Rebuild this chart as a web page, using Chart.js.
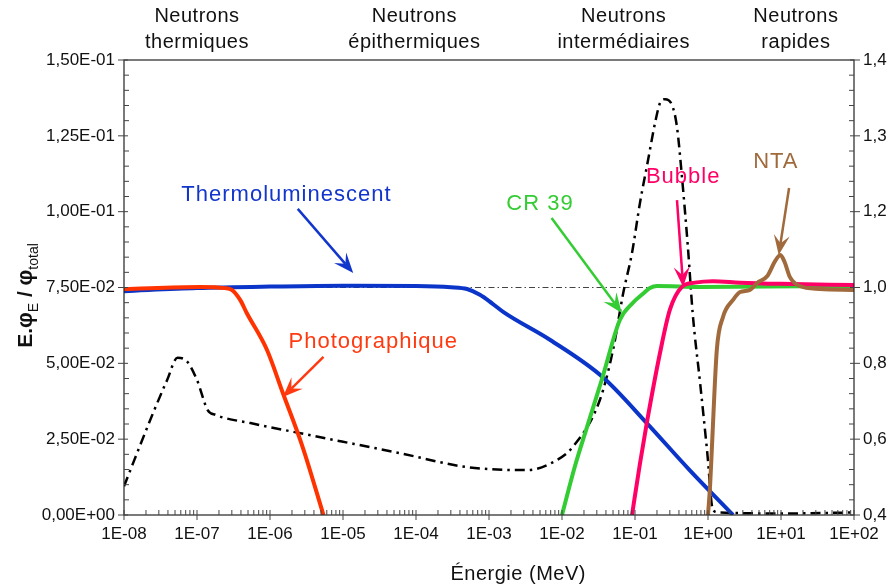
<!DOCTYPE html>
<html>
<head>
<meta charset="utf-8">
<script src="https://cdn.jsdelivr.net/npm/chart.js@4"></script>
<style>
  body { margin: 0; background: #fff; }
</style>
</head>
<body>
<canvas id="myChart" width="895" height="587"></canvas>
<script>
// Tick labels
var xTickValues = [1e-8, 1e-7, 1e-6, 1e-5, 1e-4, 1e-3, 1e-2, 1e-1, 1e0, 1e1, 1e2];
var xTickLabels = ['1E-08', '1E-07', '1E-06', '1E-05', '1E-04', '1E-03', '1E-02', '1E-01', '1E+00', '1E+01', '1E+02'];
var yTickValues = [0, 0.025, 0.05, 0.075, 0.1, 0.125, 0.15];
var yTickLabels = ['0,00E+00', '2,50E-02', '5,00E-02', '7,50E-02', '1,00E-01', '1,25E-01', '1,50E-01'];
var y2TickLabels = ['0,4', '0,6', '0,8', '1,0', '1,2', '1,3', '1,4'];

// Energies (MeV) and E.phi/phi_total for each curve
var energyThermo = [1e-8, 1e-7, 1e-6, 1e-5, 1e-4, 3e-4, 5e-4, 7.5e-4, 1.1e-3, 1.6e-3, 6.9e-3, 3.6e-2, 0.145, 0.56, 2.2];
var valueThermo = [0.0738, 0.0748, 0.0753, 0.0756, 0.0755, 0.0751, 0.0745, 0.0726, 0.0698, 0.0668, 0.0577, 0.0455, 0.0303, 0.0148, 0];

var energyPhoto = [1e-8, 1.1e-7, 2.4e-7, 3e-7, 3.9e-7, 4.8e-7, 9.1e-7, 1.5e-6, 2.8e-6, 5.4e-6];
var valuePhoto = [0.0745, 0.0752, 0.0748, 0.0742, 0.0709, 0.0666, 0.0544, 0.0402, 0.0224, 0];

var energyCR39 = [1e-2, 1.5e-2, 2.2e-2, 3.6e-2, 6.2e-2, 9.3e-2, 0.13, 0.16, 0.2, 0.78, 100];
var valueCR39 = [0, 0.016, 0.029, 0.0455, 0.0643, 0.0699, 0.0730, 0.0748, 0.0755, 0.0752, 0.0755];

var energyBubble = [9.1e-2, 0.117, 0.145, 0.22, 0.30, 0.44, 0.66, 1.17, 2.75, 9.8, 100];
var valueBubble = [0, 0.017, 0.0303, 0.0534, 0.0676, 0.0752, 0.0766, 0.0771, 0.0766, 0.0762, 0.0758];

var energyNTA = [1.0, 1.07, 1.13, 1.32, 1.6, 2.2, 2.75, 3.76, 4.7, 6.5, 8.3, 9.8, 11.2, 13.2, 18, 34, 100];
var valueNTA = [0, 0.01, 0.022, 0.0544, 0.0652, 0.0709, 0.0735, 0.0742, 0.0765, 0.0788, 0.0837, 0.0857, 0.0834, 0.0785, 0.0755, 0.0745, 0.0742];

var energySpectrum = [1e-8, 2.5e-8, 3.9e-8, 5.4e-8, 7.2e-8, 1e-7, 1.4e-7, 1.8e-7, 5.4e-7, 2.1e-6, 6e-5, 5e-4, 3.3e-3, 8.5e-3, 1.4e-2, 3.3e-2, 5e-2, 6.9e-2, 9.1e-2, 0.117, 0.151, 0.188, 0.22, 0.258, 0.321, 0.376, 0.44, 0.53, 0.62, 0.78, 0.97, 1.17, 1.45, 9.8, 89];
var valueSpectrum = [0.0095, 0.0336, 0.0445, 0.0518, 0.0508, 0.0445, 0.0346, 0.033, 0.0303, 0.0274, 0.0204, 0.0158, 0.0148, 0.0181, 0.0224, 0.0379, 0.0544, 0.0732, 0.0864, 0.1029, 0.117, 0.1292, 0.1358, 0.1371, 0.1352, 0.1279, 0.1114, 0.0884, 0.0659, 0.0435, 0.0214, 0.0016, 0.0008, 0.0005, 0.0008];

var energyRef = [1e-8, 100];
var valueRef = [0.075, 0.075];

function pts(xs, ys) {
    return xs.map(function (x, i) { return { x: x, y: ys[i] }; });
}

// labels with arrows, placed in data coordinates
var notes = [
    { text: 'Thermoluminescent', color: '#1236cc', at: [1.68e-6, 0.1035], from: [2.4e-6, 0.1009], to: [1.38e-5, 0.0798] },
    { text: 'Photographique', color: '#ff3a10', at: [2.6e-5, 0.0551], from: [5.4e-6, 0.0521], to: [1.5e-6, 0.0389] },
    { text: 'CR 39', color: '#33cc33', at: [5e-3, 0.1005], from: [7.2e-3, 0.0979], to: [6.6e-2, 0.0666] },
    { text: 'Bubble', color: '#ff0066', at: [0.457, 0.1095], from: [0.376, 0.1038], to: [0.457, 0.0752] },
    { text: 'NTA', color: '#a06a3c', at: [8.5, 0.1144], from: [12.9, 0.1078], to: [9.3, 0.0857] }
];

var regions = [
    { lines: ['Neutrons', 'thermiques'], at: 1e-7 },
    { lines: ['Neutrons', 'épithermiques'], at: 9.5e-5 },
    { lines: ['Neutrons', 'intermédiaires'], at: 7e-2 },
    { lines: ['Neutrons', 'rapides'], at: 1.6e1 }
];

function drawArrow(ctx, x1, y1, x2, y2, color) {
    var ang = Math.atan2(y2 - y1, x2 - x1);
    var L = 20, W = 8;
    var cos = Math.cos(ang), sin = Math.sin(ang);
    ctx.strokeStyle = color;
    ctx.fillStyle = color;
    ctx.lineWidth = 2.5;
    ctx.beginPath();
    ctx.moveTo(x1, y1);
    ctx.lineTo(x2 - L * 0.6 * cos, y2 - L * 0.6 * sin);
    ctx.stroke();
    ctx.beginPath();
    ctx.moveTo(x2, y2);
    ctx.lineTo(x2 - L * cos - W * sin, y2 - L * sin + W * cos);
    ctx.lineTo(x2 - L * 0.6 * cos, y2 - L * 0.6 * sin);
    ctx.lineTo(x2 - L * cos + W * sin, y2 - L * sin - W * cos);
    ctx.closePath();
    ctx.fill();
}

var decor = {
    id: 'decor',
    afterDatasetsDraw: function (chart) {
        var ctx = chart.ctx, x = chart.scales.x, y = chart.scales.y;
        ctx.save();
        notes.forEach(function (n) {
            drawArrow(ctx, x.getPixelForValue(n.from[0]), y.getPixelForValue(n.from[1]),
                x.getPixelForValue(n.to[0]), y.getPixelForValue(n.to[1]), n.color);
            ctx.font = '22px "Liberation Sans", Arial, sans-serif';
            ctx.letterSpacing = '1px';
            ctx.textAlign = 'center';
            ctx.textBaseline = 'alphabetic';
            ctx.fillStyle = n.color;
            ctx.fillText(n.text, x.getPixelForValue(n.at[0]), y.getPixelForValue(n.at[1]));
        });
        ctx.restore();
    },
    afterDraw: function (chart) {
        var ctx = chart.ctx, a = chart.chartArea, x = chart.scales.x, y = chart.scales.y;
        ctx.save();
        // frame
        ctx.strokeStyle = '#222';
        ctx.lineWidth = 1.2;
        ctx.strokeRect(a.left, a.top, a.right - a.left, a.bottom - a.top);
        ctx.strokeStyle = '#444';
        ctx.lineWidth = 1;
        ctx.beginPath();
        // x ticks
        for (var d = -8; d <= 2; d++) {
            var px = x.getPixelForValue(Math.pow(10, d));
            ctx.moveTo(px, a.bottom - 5);
            ctx.lineTo(px, a.bottom + 5);
            if (d < 2) {
                for (var m = 2; m <= 9; m++) {
                    var pm = x.getPixelForValue(m * Math.pow(10, d));
                    ctx.moveTo(pm, a.bottom - 5);
                    ctx.lineTo(pm, a.bottom);
                }
            }
        }
        // y ticks, left and right
        for (var k = 0; k <= 30; k++) {
            var py = y.getPixelForValue(k * 0.005);
            if (k % 5 === 0) {
                ctx.moveTo(a.left - 6, py); ctx.lineTo(a.left + 4, py);
                ctx.moveTo(a.right - 4, py); ctx.lineTo(a.right + 6, py);
            } else {
                ctx.moveTo(a.left, py); ctx.lineTo(a.left + 5, py);
                ctx.moveTo(a.right - 5, py); ctx.lineTo(a.right, py);
            }
        }
        ctx.stroke();

        // region labels on top
        ctx.fillStyle = '#111';
        ctx.font = '20px "Liberation Sans", Arial, sans-serif';
        ctx.letterSpacing = '0.5px';
        ctx.textAlign = 'center';
        ctx.textBaseline = 'middle';
        regions.forEach(function (r) {
            var cx = x.getPixelForValue(r.at);
            ctx.fillText(r.lines[0], cx, 16);
            ctx.fillText(r.lines[1], cx, 42);
        });

        // x title
        ctx.font = '20px "Liberation Sans", Arial, sans-serif';
        ctx.fillText('Énergie (MeV)', a.left + (a.right - a.left) * 0.54, 574);

        // y title with subscripts
        ctx.letterSpacing = '0px';
        ctx.translate(26, (a.top + a.bottom) / 2 + 8);
        ctx.rotate(-Math.PI / 2);
        var parts = [
            ['E.', 'bold 21px "Liberation Sans", Arial, sans-serif', 0],
            ['φ', 'bold 22px "Liberation Sans", Arial, sans-serif', 0],
            ['E', '14px "Liberation Sans", Arial, sans-serif', 6],
            [' / ', 'bold 21px "Liberation Sans", Arial, sans-serif', 0],
            ['φ', 'bold 22px "Liberation Sans", Arial, sans-serif', 0],
            ['total', '14px "Liberation Sans", Arial, sans-serif', 6]
        ];
        var total = 0;
        parts.forEach(function (p) { ctx.font = p[1]; total += ctx.measureText(p[0]).width; });
        var cur = -total / 2;
        ctx.textAlign = 'left';
        ctx.textBaseline = 'alphabetic';
        parts.forEach(function (p) {
            ctx.font = p[1];
            ctx.fillText(p[0], cur, 6 + p[2]);
            cur += ctx.measureText(p[0]).width;
        });
        ctx.restore();
    }
};

var lineStyle = function (color, width) {
    return {
        borderColor: color,
        backgroundColor: color,
        borderWidth: width,
        pointRadius: 0,
        fill: false,
        cubicInterpolationMode: 'monotone'
    };
};

var ctx = document.getElementById('myChart').getContext('2d');
var myChart = new Chart(ctx, {
    type: 'line',
    data: {
        datasets: [
            Object.assign({ label: 'Photographique', data: pts(energyPhoto, valuePhoto) }, lineStyle('#ff3300', 4)),
            Object.assign({ label: 'NTA', data: pts(energyNTA, valueNTA) }, lineStyle('#a06a3c', 4)),
            Object.assign({ label: 'Bubble', data: pts(energyBubble, valueBubble) }, lineStyle('#ff0066', 4)),
            Object.assign({ label: 'CR 39', data: pts(energyCR39, valueCR39) }, lineStyle('#33cc33', 4)),
            Object.assign({ label: 'Thermoluminescent', data: pts(energyThermo, valueThermo) }, lineStyle('#0b35c8', 4)),
            Object.assign({ label: 'Spectre', data: pts(energySpectrum, valueSpectrum), borderDash: [10, 5, 2.5, 5] }, lineStyle('#000', 2.5)),
            Object.assign({ label: 'Référence', data: pts(energyRef, valueRef), borderDash: [6, 3, 1.5, 3] }, lineStyle('#444', 1))
        ]
    },
    options: {
        responsive: false,
        animation: false,
        layout: { padding: { top: 60, right: 0, left: 0, bottom: 0 } },
        plugins: {
            legend: { display: false },
            tooltip: { enabled: false }
        },
        scales: {
            x: {
                type: 'logarithmic',
                min: 1e-8,
                max: 1e2,
                afterBuildTicks: function (s) { s.ticks = xTickValues.map(function (v) { return { value: v, major: true }; }); },
                afterFit: function (s) { s.height = 72; },
                grid: { display: false, drawTicks: false, tickLength: 0 },
                border: { display: false },
                ticks: {
                    padding: 9,
                    color: '#111',
                    autoSkip: false,
                    maxRotation: 0,
                    font: { family: '"Liberation Sans", Arial, sans-serif', size: 17 },
                    callback: function (v, i) { return xTickLabels[i]; }
                }
            },
            y: {
                position: 'left',
                min: 0,
                max: 0.15,
                afterBuildTicks: function (s) { s.ticks = yTickValues.map(function (v) { return { value: v }; }); },
                afterFit: function (s) { s.width = 124; },
                grid: { display: false, drawTicks: false, tickLength: 0 },
                border: { display: false },
                ticks: {
                    padding: 9,
                    color: '#111',
                    font: { family: '"Liberation Sans", Arial, sans-serif', size: 17 },
                    callback: function (v, i) { return yTickLabels[i]; }
                }
            },
            y2: {
                position: 'right',
                min: 0,
                max: 6,
                afterBuildTicks: function (s) { s.ticks = y2TickLabels.map(function (v, i) { return { value: i }; }); },
                afterFit: function (s) { s.width = 41; },
                grid: { display: false, drawTicks: false, tickLength: 0 },
                border: { display: false },
                ticks: {
                    padding: 9,
                    color: '#111',
                    font: { family: '"Liberation Sans", Arial, sans-serif', size: 17 },
                    callback: function (v, i) { return y2TickLabels[i]; }
                }
            }
        }
    },
    plugins: [decor]
});
</script>
</body>
</html>
